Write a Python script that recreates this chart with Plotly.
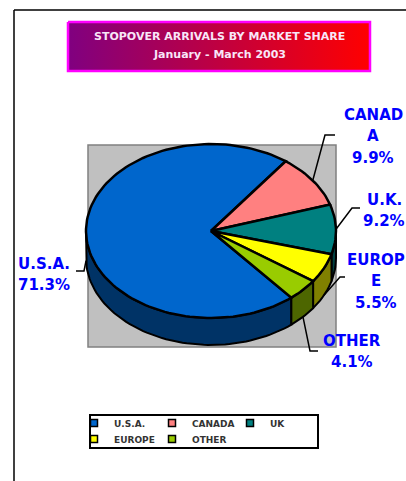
import numpy as np
import plotly.graph_objects as go

# ---------------- data ----------------
categories = ["U.S.A.", "CANADA", "U.K.", "EUROPE", "OTHER"]
legend_names = ["U.S.A.", "CANADA", "UK", "EUROPE", "OTHER"]
shares = [71.3, 9.9, 9.2, 5.5, 4.1]
label_lines = [["U.S.A."], ["CANAD", "A"], ["U.K."], ["EUROP", "E"], ["OTHER"]]
title_line1 = "STOPOVER ARRIVALS BY MARKET SHARE"
title_line2 = "January - March 2003"

# ---------------- styles / layout ----------------
top_colors = ["#0066CC", "#FF8080", "#008080", "#FFFF00", "#99CC00"]
side_colors = ["#003366", "#804040", "#004040", "#808000", "#4D6600"]
W, H = 406, 481
CX, CY, RX, RY, DEPTH = 211, 231, 125, 87, 27
START = -50.0  # first slice starts here (deg) and runs clockwise
LABEL_FONT = dict(family="DejaVu Sans", size=15, color="#0000FF", weight="bold")
# per slice: label centre x, first line centre y, elbow point, end of leader
label_pos = [(44, 262), (373, 113), (384, 198), (376, 258), (352, 339)]
leader_elbow = [(84, 271), (325, 135), (352, 208), (340, 277), (310, 351)]
leader_end = [(76, 271), (335, 135), (360, 208), (345, 277), (318, 351)]
LINE_STEP = 21.5


def pt(theta, dy=0.0):
    t = np.radians(theta)
    return CX + RX * np.cos(t), CY - RY * np.sin(t) + dy


def arc(a, b, dy=0.0, n=None):
    if n is None:
        n = max(4, int(abs(a - b) / 2) + 2)
    th = np.linspace(a, b, n)
    xs, ys = pt(th, dy)
    return list(xs), list(ys)


fig = go.Figure()

# page border lines
fig.add_shape(type="line", x0=14, y0=10, x1=14, y1=H + 5, line=dict(color="black", width=1.5))
fig.add_shape(type="line", x0=14, y0=10, x1=W + 5, y1=10, line=dict(color="black", width=1.5))
# grey plot area
fig.add_shape(type="rect", x0=88, y0=145, x1=336, y1=347, fillcolor="#C0C0C0",
              line=dict(color="#808080", width=1.5), layer="below")
# legend box
fig.add_shape(type="rect", x0=90, y0=415, x1=318, y1=448, fillcolor="white",
              line=dict(color="black", width=2), layer="below")

# title box with gradient
fig.add_trace(go.Scatter(
    x=[68, 370, 370, 68, 68], y=[22, 22, 71, 71, 22], mode="lines", fill="toself",
    fillgradient=dict(type="horizontal", colorscale=[[0, "#800080"], [1, "#FF0000"]]),
    line=dict(color="#FF00FF", width=2.5), hoverinfo="skip", showlegend=False))

total = float(sum(shares))
angles = []
a = START
for v in shares:
    b = a - v / total * 360.0
    angles.append((a, b))
    a = b

# side walls (only the front half, sin < 0)
for i, (a0, a1) in enumerate(angles):
    for k in range(0, 3):
        lo_w, hi_w = -180 - 360 * k, 0 - 360 * k
        hi = min(a0, hi_w)
        lo = max(a1, lo_w)
        if hi - lo > 0.05:
            xt, yt = arc(hi, lo)
            xb, yb = arc(lo, hi, DEPTH)
            fig.add_trace(go.Scatter(
                x=xt + xb + [xt[0]], y=yt + yb + [yt[0]], mode="lines", fill="toself",
                fillcolor=side_colors[i], line=dict(color="black", width=2),
                hoverinfo="skip", showlegend=False))

# top faces
for i, (a0, a1) in enumerate(angles):
    xs, ys = arc(a0, a1)
    fig.add_trace(go.Scatter(
        x=[CX] + xs + [CX], y=[CY] + ys + [CY], mode="lines", fill="toself",
        fillcolor=top_colors[i], line=dict(color="black", width=2.5),
        name=categories[i], hoverinfo="skip", showlegend=False))

# leader lines and labels
annotations = []
for i, (a0, a1) in enumerate(angles):
    m = (a0 + a1) / 2.0
    dy = DEPTH if np.sin(np.radians(m)) < 0 else 0.0
    ax, ay = pt(m, dy)
    ex, ey = leader_elbow[i]
    fx, fy = leader_end[i]
    fig.add_trace(go.Scatter(x=[float(ax), ex, fx], y=[float(ay), ey, fy], mode="lines",
                             line=dict(color="black", width=1.5), hoverinfo="skip",
                             showlegend=False))
    lines = label_lines[i] + [f"{shares[i]}%"]
    lx, ly = label_pos[i]
    for j, t in enumerate(lines):
        annotations.append(dict(x=lx, y=ly + j * LINE_STEP + 1.5, xref="x", yref="y", text=t,
                                showarrow=False, xanchor="center", yanchor="middle",
                                font=LABEL_FONT))

# title text
tfont = dict(family="DejaVu Sans", size=11, color="#F8E6F8", weight="bold")
annotations.append(dict(x=219, y=36, xref="x", yref="y", text=title_line1, showarrow=False,
                        xanchor="center", yanchor="middle", font=tfont))
annotations.append(dict(x=219, y=54, xref="x", yref="y", text=title_line2, showarrow=False,
                        xanchor="center", yanchor="middle", font=tfont))

# legend entries (row 1 -> legend, row 2 -> legend2)
for i, nm in enumerate(legend_names):
    fig.add_trace(go.Scatter(
        x=[None], y=[None], mode="markers", name=nm,
        marker=dict(symbol="square", size=7, color=top_colors[i],
                    line=dict(color="black", width=1.5)),
        legend="legend" if i < 3 else "legend2", showlegend=True))

lfont = dict(family="DejaVu Sans", size=9, color="#333333", weight="bold")
common_leg = dict(orientation="h", xanchor="left", yanchor="middle", bgcolor="rgba(0,0,0,0)",
                  borderwidth=0, font=lfont, itemwidth=30, entrywidth=33,
                  entrywidthmode="pixels", itemclick=False, itemdoubleclick=False)

fig.update_layout(
    width=W, height=H, margin=dict(l=0, r=0, t=0, b=0),
    paper_bgcolor="white", plot_bgcolor="white",
    xaxis=dict(range=[0, W], visible=False, fixedrange=True),
    yaxis=dict(range=[H, 0], visible=False, fixedrange=True),
    annotations=annotations, hovermode=False,
    legend=dict(x=74 / W, y=1 - 423 / H, **common_leg),
    legend2=dict(x=74 / W, y=1 - 439 / H, **common_leg),
)

fig.write_html("out.html", config={"displayModeBar": False},
               post_script="document.body.style.margin='0';document.body.style.overflow='hidden';")
